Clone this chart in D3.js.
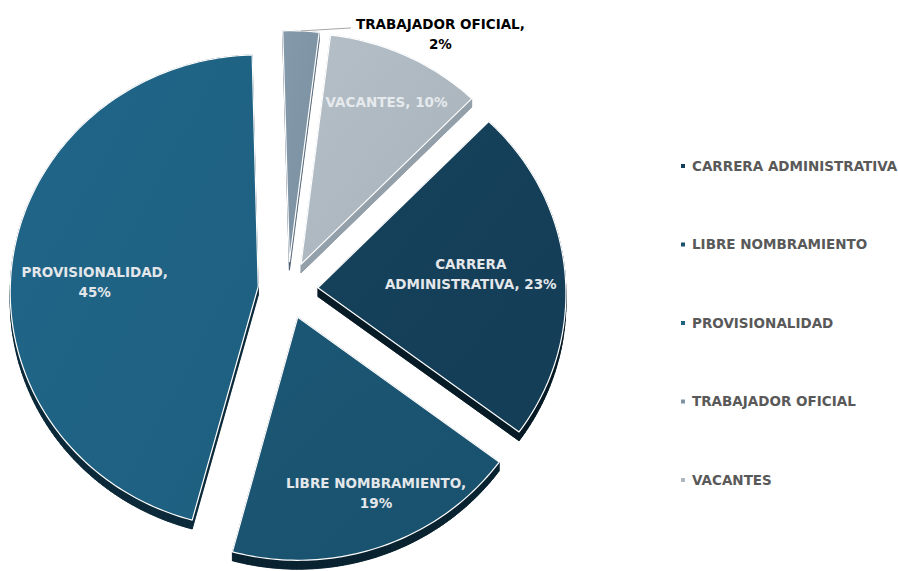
<!DOCTYPE html>
<html>
<head>
<meta charset="utf-8">
<script src="https://cdn.jsdelivr.net/npm/d3@7"></script>
<style>
  body { margin: 0; background: #ffffff; }
  svg { display: block; }
</style>
</head>
<body>
<div id="chart"></div>
<script>
// Datos de la gráfica (porcentajes)
const categories = ['CARRERA ADMINISTRATIVA', 'LIBRE NOMBRAMIENTO', 'PROVISIONALIDAD', 'TRABAJADOR OFICIAL', 'VACANTES'];
const values = [22.9, 18.9, 45.4, 2.4, 10.4];

// Estilos
const colors = ['#153f58', '#1a5370', '#1f6283', '#7e93a3', '#adb7c0'];
const sideColors = ['#071b26', '#0a2331', '#0c2a3a', '#56687a', '#939fa9'];
const labelColors = ['#e4e7ea', '#e4e7ea', '#e4e7ea', '#000000', '#e6eaed'];

const width = 898, height = 571;
const cx = 288, cy = 290, R = 248, explode = 30, depth = 30;
const persp = 3400, tiltY = 0.955, tiltZ = 0.29;
const startDeg = 44.5;
const font = "'DejaVu Sans', sans-serif";
const fontSize = '13.5px';

// posición de las etiquetas: fracción del radio, ajuste de ángulo (grados) y ancho máximo de línea
const labelRadius = [0.62, 0.79, 0.66, 1.0, 0.78];
const labelShift = [-1, -4, -5, 0, 1];
const labelWrap = [180, 190, 160, 180, 200];

const svg = d3.select('#chart').append('svg')
    .attr('width', width)
    .attr('height', height);

// proyección en perspectiva del plano del pastel
function project(u, v, h) {
    const k = persp / (persp + v * tiltZ);
    return [cx + u * k, cy - (v * tiltY + h * tiltZ) * k];
}

const data = categories.map((c, i) => ({ name: c, value: values[i] }));
const pie = d3.pie()
    .sort(null)
    .value(d => d.value)
    .startAngle(startDeg * Math.PI / 180)
    .endAngle(startDeg * Math.PI / 180 + 2 * Math.PI);
const arcs = pie(data);

arcs.forEach(a => {
    const mid = (a.startAngle + a.endAngle) / 2;
    a.mid = mid;
    a.ox = Math.sin(mid) * explode;
    a.oy = Math.cos(mid) * explode;
    const n = Math.max(4, Math.ceil((a.endAngle - a.startAngle) / 0.02));
    const pts = [[a.ox, a.oy]];
    for (let j = 0; j <= n; j++) {
        const t = a.startAngle + (a.endAngle - a.startAngle) * j / n;
        pts.push([a.ox + Math.sin(t) * R, a.oy + Math.cos(t) * R]);
    }
    a.outline = pts;
});

const line = d3.line().curve(d3.curveLinearClosed);

// caras laterales (grosor del pastel)
const sides = svg.append('g');
arcs.forEach(a => {
    const g = sides.append('g')
        .attr('fill', sideColors[a.index])
        .attr('stroke', sideColors[a.index])
        .attr('stroke-width', 0.6);
    g.append('path').attr('d', line(a.outline.map(p => project(p[0], p[1], -depth))));
    const pts = a.outline;
    for (let j = 0; j < pts.length; j++) {
        const p = pts[j], q = pts[(j + 1) % pts.length];
        g.append('path').attr('d', line([
            project(p[0], p[1], 0), project(q[0], q[1], 0),
            project(q[0], q[1], -depth), project(p[0], p[1], -depth)
        ]));
    }
});

// degradados suaves para la cara superior
const defs = svg.append('defs');
arcs.forEach(a => {
    const c = d3.color(colors[a.index]);
    const grad = defs.append('linearGradient')
        .attr('id', 'grad' + a.index)
        .attr('x1', '0%').attr('y1', '0%')
        .attr('x2', '100%').attr('y2', '100%');
    grad.append('stop').attr('offset', '0%').attr('stop-color', c.brighter(0.12));
    grad.append('stop').attr('offset', '100%').attr('stop-color', c.darker(0.08));
});

// cara superior
svg.append('g').selectAll('path')
    .data(arcs)
    .enter().append('path')
    .attr('d', a => line(a.outline.map(p => project(p[0], p[1], 0))))
    .attr('fill', a => 'url(#grad' + a.index + ')')
    .attr('stroke', '#ffffff')
    .attr('stroke-width', 1.2)
    .attr('stroke-linejoin', 'round');

// medir texto para partir líneas
const measure = svg.append('text')
    .style('font-family', font).style('font-weight', 'bold').style('font-size', fontSize);
function textWidth(s) { measure.text(s); return measure.node().getComputedTextLength(); }
function wrap(s, maxW) {
    const words = s.split(' ');
    const lines = [];
    let cur = '';
    words.forEach(w => {
        const test = cur ? cur + ' ' + w : w;
        if (cur && textWidth(test) > maxW) { lines.push(cur); cur = w; }
        else cur = test;
    });
    lines.push(cur);
    return lines;
}

// etiquetas de datos
const labels = svg.append('g')
    .style('font-family', font)
    .style('font-weight', 'bold')
    .style('font-size', fontSize);

arcs.forEach(a => {
    const txt = a.data.name + ', ' + Math.round(a.data.value) + '%';
    const lines = wrap(txt, labelWrap[a.index]);
    const ang = a.mid + labelShift[a.index] * Math.PI / 180;
    const r = R * labelRadius[a.index];
    let pos = project(a.ox + Math.sin(ang) * r, a.oy + Math.cos(ang) * r, 0);
    if (a.data.value < 5) {
        // etiqueta exterior con línea guía
        const start = pos;
        const end = [start[0] + 50, start[1] - 3];
        labels.append('path')
            .attr('d', d3.line()([start, end]))
            .attr('fill', 'none')
            .attr('stroke', '#a6a6a6')
            .attr('stroke-width', 1);
        pos = [end[0] + 5 + textWidth(lines[0]) / 2, end[1] + 6];
    }
    const lh = 20;
    const y0 = pos[1] - (lines.length - 1) * lh / 2;
    lines.forEach((l, j) => {
        labels.append('text')
            .attr('x', pos[0])
            .attr('y', y0 + j * lh)
            .attr('dy', '0.36em')
            .attr('text-anchor', 'middle')
            .attr('fill', labelColors[a.index])
            .text(l);
    });
});
measure.remove();

// leyenda
const legend = svg.append('g')
    .style('font-family', font)
    .style('font-weight', 'bold')
    .style('font-size', fontSize);

const legendY = d3.scalePoint().domain(categories).range([166, 480]);
categories.forEach((c, i) => {
    const y = legendY(c);
    legend.append('rect')
        .attr('x', 681).attr('y', y - 2)
        .attr('width', 4).attr('height', 4)
        .attr('fill', colors[i]);
    legend.append('text')
        .attr('x', 692).attr('y', y)
        .attr('dy', '0.36em')
        .attr('fill', '#595959')
        .text(c);
});
</script>
</body>
</html>
